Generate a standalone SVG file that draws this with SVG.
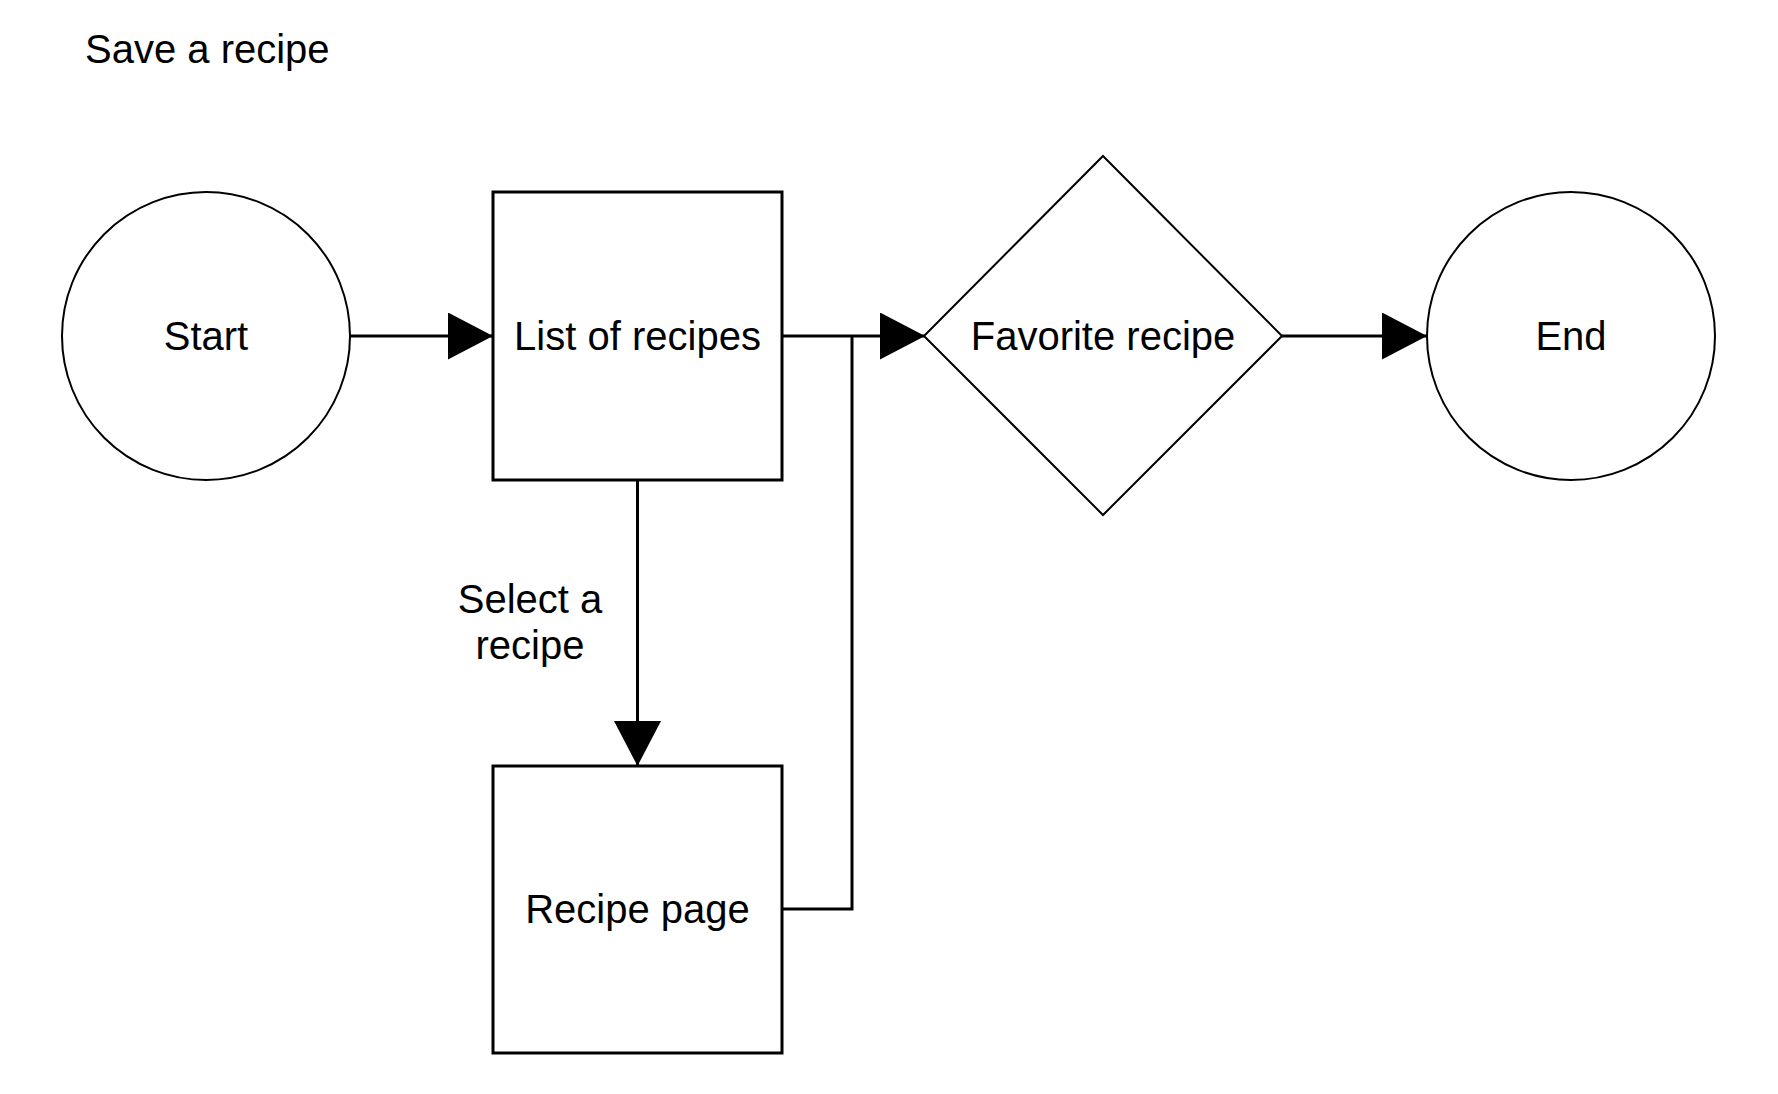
<svg xmlns="http://www.w3.org/2000/svg" width="1778" height="1094" viewBox="0 0 1778 1094">
  <style>
    text { font-family: "Liberation Sans", Arial, sans-serif; font-size: 40px; fill: #000; }
    .c { text-anchor: middle; }
    .shape { fill: #fff; stroke: #000; stroke-width: 2; }
    .box { fill: #fff; stroke: #000; stroke-width: 3; }
    .edge { fill: none; stroke: #000; stroke-width: 3; }
  </style>
  <defs>
    <marker id="arrow" viewBox="0 0 45 47" refX="45" refY="23.5" markerWidth="45" markerHeight="47" markerUnits="userSpaceOnUse" orient="auto">
      <path d="M0,0 L45,23.5 L0,47 Z" fill="#000"/>
    </marker>
  </defs>
  <rect width="1778" height="1094" fill="#fff"/>
  <text x="85" y="63">Save a recipe</text>

  <g id="connectors">
    <path class="edge" d="M350,336 H493" marker-end="url(#arrow)"/>
    <path class="edge" d="M782,336 H925" marker-end="url(#arrow)"/>
    <path class="edge" d="M782,909 H852 V336"/>
    <path class="edge" d="M1282,336 H1427" marker-end="url(#arrow)"/>
    <path class="edge" d="M637.5,480 V766" marker-end="url(#arrow)"/>
    <text class="c" x="530" y="613">Select a</text>
    <text class="c" x="530" y="659">recipe</text>
  </g>

  <g id="start">
    <circle class="shape" cx="206" cy="336" r="144"/>
    <text class="c" x="206" y="350">Start</text>
  </g>

  <g id="list">
    <rect class="box" x="493" y="192" width="289" height="288"/>
    <text class="c" x="637.5" y="350">List of recipes</text>
  </g>

  <g id="favorite">
    <polygon class="shape" points="1103,156 1282,336 1103,515 924,336"/>
    <text class="c" x="1103" y="350">Favorite recipe</text>
  </g>

  <g id="end">
    <circle class="shape" cx="1571" cy="336" r="144"/>
    <text class="c" x="1571" y="350">End</text>
  </g>

  <g id="recipepage">
    <rect class="box" x="493" y="766" width="289" height="287"/>
    <text class="c" x="637.5" y="923">Recipe page</text>
  </g>
</svg>
